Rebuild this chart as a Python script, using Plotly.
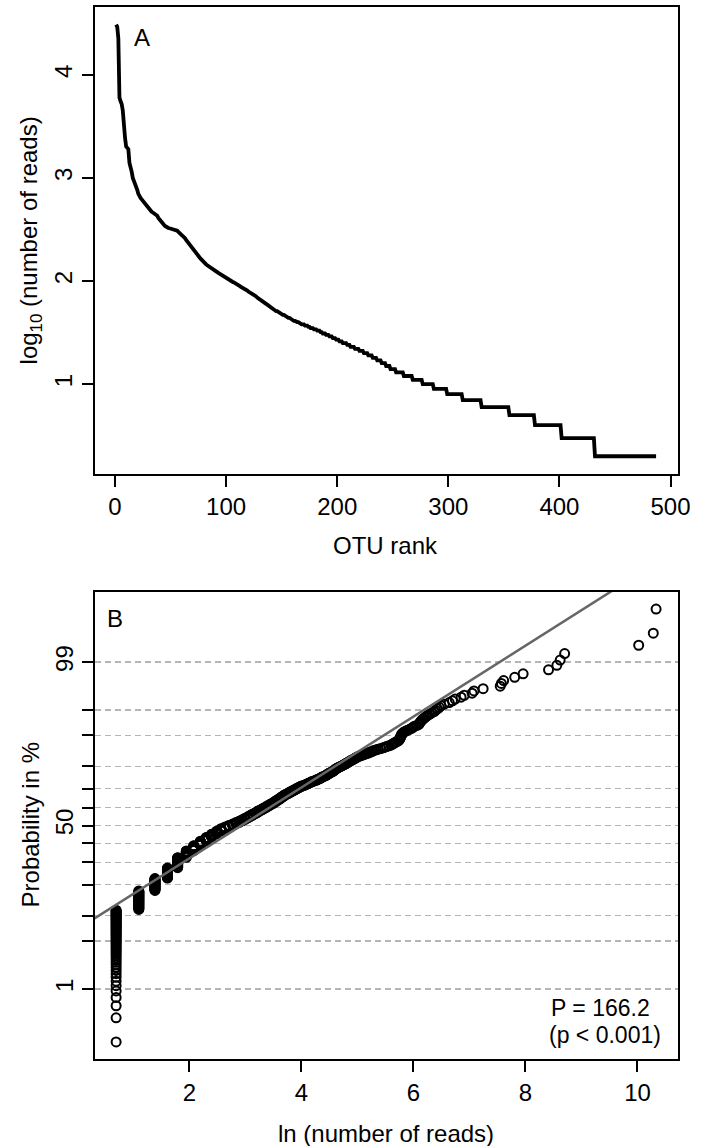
import math
from statistics import NormalDist
import plotly.graph_objects as go

# ---------------- data ----------------
# individual read counts of the most abundant OTUs, rank 1..160 (descending)
TOP_READS = [
    30700, 29200, 22500, 6000, 5540, 5220, 4500, 2860, 2460, 2020,
    1940, 1900, 1400, 1190, 1150, 1000, 945, 850, 810, 765,
    700, 660, 640, 620, 600, 585, 560, 540, 520, 505,
    493, 480, 470, 462, 455, 450, 445, 430, 410, 400,
    390, 378, 365, 352, 342, 335, 330, 327, 325, 323,
    321, 319, 317, 315, 312, 308, 300, 293, 286, 280,
    275, 270,
    260, 250, 242, 235, 225, 215, 208, 200,
    195, 190, 185, 180, 175, 170, 165, 160, 155, 150,
    147, 145, 142, 140, 137, 135, 132, 130, 128, 126,
    124, 122, 120, 118, 116, 114, 112, 110, 108, 106,
    104, 103, 101, 100, 99, 98, 97, 96, 94, 92,
    91, 90, 88, 87, 86, 85, 84, 82, 81, 79,
    78, 77, 76, 75, 73, 72, 71, 69, 68, 66,
    65, 64, 63, 62, 61, 60, 59, 58, 57, 55,
    54, 54, 53, 52, 51, 51, 50, 49, 49, 48,
    47, 47, 46, 45, 45, 44, 44, 43, 43, 42,
]
# rarer OTUs: read count level and number of OTUs at that level
LEVEL_READS = [41, 40, 39, 38, 37, 36, 35, 34, 33, 32, 31, 30, 29, 28, 27,
               26, 25, 24, 23, 22, 21, 20, 19, 18, 17, 16, 15, 14,
               13, 12, 11, 10, 9, 8, 7, 6, 5, 4, 3, 2]
LEVEL_COUNTS = [2, 3, 2, 3, 3, 2, 3, 3, 3, 2, 3, 3, 3, 3, 3,
                3, 4, 3, 4, 4, 4, 4, 4, 4, 4, 4, 4, 5,
                7, 8, 9, 10, 12, 14, 17, 25, 23, 24, 30, 56]

# fitted log-normal line (mean and sd of ln reads)
FIT_MU = 2.93
FIT_SIGMA = 1.98

RANK_TICKS = [0, 100, 200, 300, 400, 500]
LOG10_TICKS = [1, 2, 3, 4]
LN_TICKS = [2, 4, 6, 8, 10]
PROB_TICKS = [1, 5, 10, 20, 30, 40, 50, 60, 70, 80, 90, 95, 99]
PROB_LABELLED = [1, 50, 99]
STAT_LINES = ["P = 166.2", "(p < 0.001)"]

# ---------------- derived series ----------------
reads = list(TOP_READS)
for r, c in zip(LEVEL_READS, LEVEL_COUNTS):
    reads += [r] * c
n = len(reads)
ranks = list(range(1, n + 1))
log10_reads = [math.log10(r) for r in reads]
ln_sorted = sorted(math.log(r) for r in reads)
nd = NormalDist()
z_scores = [nd.inv_cdf((i - 0.5) / n) for i in range(1, n + 1)]
prob_z = [nd.inv_cdf(p / 100.0) for p in PROB_TICKS]
lab_z = [nd.inv_cdf(p / 100.0) for p in PROB_LABELLED]
lab_txt = [str(p) for p in PROB_LABELLED]


def rrange(vals):
    lo, hi = min(vals), max(vals)
    d = 0.04 * (hi - lo)
    return [lo - d, hi + d]


xr1 = rrange(ranks)
yr1 = rrange(log10_reads)
xr2 = rrange(ln_sorted)
yr2 = rrange(z_scores)

W, H = 706, 1146
FONT = "Liberation Sans, Arial, Helvetica, sans-serif"
FS = 24


def px(x):
    return x / W


def py(y):
    return (H - y) / H


fig = go.Figure()
fig.add_trace(go.Scatter(
    x=ranks, y=log10_reads, mode="lines",
    line=dict(color="black", width=3.8), xaxis="x", yaxis="y",
    showlegend=False, hoverinfo="skip"))
fig.add_trace(go.Scatter(
    x=ln_sorted, y=z_scores, mode="markers",
    marker=dict(symbol="circle-open", size=9, color="black",
                line=dict(width=2, color="black")),
    xaxis="x2", yaxis="y2", showlegend=False, hoverinfo="skip"))
fit_x = [xr2[0], xr2[1]]
fit_z = [(v - FIT_MU) / FIT_SIGMA for v in fit_x]
fig.add_trace(go.Scatter(
    x=fit_x, y=fit_z, mode="lines",
    line=dict(color="#666666", width=2.5),
    xaxis="x2", yaxis="y2", showlegend=False, hoverinfo="skip"))

axis_common = dict(
    showline=True, linecolor="black", linewidth=2, mirror=True,
    ticks="outside", ticklen=11, tickwidth=2, tickcolor="black",
    zeroline=False, tickfont=dict(family=FONT, size=FS, color="black"),
    fixedrange=True,
)

xdom = [px(96.3), px(690.4)]
ydom2 = [py(1059.3), py(591.7)]
fig.update_layout(
    width=W, height=H, margin=dict(l=0, r=0, t=0, b=0),
    paper_bgcolor="white", plot_bgcolor="white",
    font=dict(family=FONT, size=FS, color="black"),
    xaxis=dict(domain=xdom, anchor="y", range=xr1, tickvals=RANK_TICKS,
               showgrid=False, **axis_common),
    yaxis=dict(domain=[py(473.5), py(7.3)], anchor="x", range=yr1,
               tickvals=LOG10_TICKS, tickangle=-90, showgrid=False,
               **axis_common),
    xaxis2=dict(domain=xdom, anchor="y2", range=xr2, tickvals=LN_TICKS,
                showgrid=False, **axis_common),
    # all probability ticks with dashed gridlines, no labels
    yaxis2=dict(domain=ydom2, anchor="x2", range=yr2,
                tickvals=prob_z, showticklabels=False,
                showgrid=True, gridcolor="#b5b5b5", gridwidth=1.5,
                griddash="6px,4px", **axis_common),
    # labelled probability ticks (1, 50, 99)
    yaxis3=dict(domain=ydom2, anchor="x2", overlaying="y2", side="left",
                range=yr2, tickvals=lab_z, ticktext=lab_txt, tickangle=-90,
                ticks="outside", ticklen=11, tickwidth=2, tickcolor="black",
                showline=False, showgrid=False, zeroline=False,
                tickfont=dict(family=FONT, size=FS, color="black"),
                fixedrange=True),
    showlegend=False,
)
# invisible anchor trace so that yaxis3 is drawn
fig.add_trace(go.Scatter(x=[xr2[0]], y=[yr2[0]], mode="markers",
                         marker=dict(opacity=0), xaxis="x2", yaxis="y3",
                         showlegend=False, hoverinfo="skip"))

ann = []


def add_text(text, x, y, angle=0, size=FS, xanchor="center"):
    ann.append(dict(text=text, x=px(x), y=py(y), xref="paper", yref="paper",
                    showarrow=False, textangle=angle, xanchor=xanchor,
                    yanchor="middle",
                    font=dict(family=FONT, size=size, color="black")))


add_text("A", 145, 37)
add_text("B", 117.5, 618)
add_text("OTU rank", 393, 545)
add_text("log<sub>10</sub> (number of reads)", 31, 240, angle=-90)
add_text("ln (number of reads)", 393, 1133)
add_text("Probability in %", 31, 825, angle=-90)
add_text(STAT_LINES[0], 612, 1008, size=23)
add_text(STAT_LINES[1], 616, 1035, size=23)
fig.update_layout(annotations=ann)

fig.write_html(
    "out.html",
    config={"displayModeBar": False, "staticPlot": True},
    post_script="document.body.style.margin='0';document.body.style.padding='0';",
)
